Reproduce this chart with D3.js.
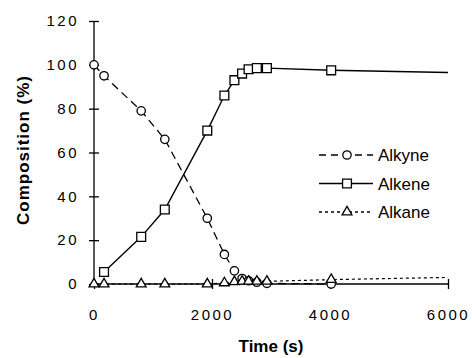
<!DOCTYPE html>
<html>
<head>
<meta charset="utf-8">
<script src="https://cdn.jsdelivr.net/npm/d3@7"></script>
<style>
  body { margin: 0; background: #fff; }
  text { font-family: "Liberation Sans", Arial, sans-serif; }
</style>
</head>
<body>
<div id="chart"></div>
<script>
// sampled times (s)
const times   = [0, 170, 800, 1200, 1920, 2210, 2380, 2510, 2620, 2760, 2930, 4020];
const alkyne  = [100, 95, 79, 66, 30, 13.5, 6, 2.5, 1.5, 0.8, 0.3, 0];
const alkene  = [null, 5.5, 21.5, 34, 70, 86, 93, 96, 98, 98.5, 98.5, 97.5];
const alkane  = [0, 0, 0, 0, 0, 0.5, 1, 1.2, 1.2, 1.2, 1.2, 2];
// line continues to end of axis without a marker
const endTime = 6000;
const alkeneEnd = 96.5;
const alkaneEnd = 3;

const xTicks = [0, 2000, 4000, 6000];
const yTicks = [0, 20, 40, 60, 80, 100, 120];
const seriesNames = ["Alkyne", "Alkene", "Alkane"];

const width = 472, height = 358;
const margin = {top: 21, right: 24, bottom: 74, left: 94};

const x = d3.scaleLinear().domain([0, 6000]).range([margin.left, width - margin.right]);
const y = d3.scaleLinear().domain([0, 120]).range([height - margin.bottom, margin.top]);

const svg = d3.select("#chart").append("svg")
  .attr("width", width)
  .attr("height", height);

// axes (ticks cross the axis line)
const yAxisL = svg.append("g")
  .attr("transform", `translate(${x(0)},0)`)
  .call(d3.axisLeft(y).tickValues(yTicks).tickSize(5).tickPadding(10));
svg.append("g")
  .attr("transform", `translate(${x(0)},0)`)
  .call(d3.axisRight(y).tickValues(yTicks).tickSize(5).tickFormat(""))
  .select(".domain").remove();

const xAxisB = svg.append("g")
  .attr("transform", `translate(0,${y(0)})`)
  .call(d3.axisBottom(x).tickValues(xTicks).tickSize(5).tickPadding(20).tickFormat(d3.format("d")));
svg.append("g")
  .attr("transform", `translate(0,${y(0)})`)
  .call(d3.axisTop(x).tickValues(xTicks).tickSize(5).tickFormat(""))
  .select(".domain").remove();

svg.selectAll(".domain").attr("stroke", "#000").attr("stroke-width", 1.3);
svg.selectAll(".tick line").attr("stroke", "#000").attr("stroke-width", 1.3);
svg.selectAll(".tick text")
  .attr("fill", "#000")
  .style("font-size", "15px")
  .style("letter-spacing", "2.5px");
// plain axis lines without end caps
yAxisL.select(".domain").attr("d", `M0,${y(0)}V${y(120)}`);
xAxisB.select(".domain").attr("d", `M${x(0)},0H${x(6000)}`);

// axis titles
svg.append("text")
  .attr("x", (x(0) + x(6000)) / 2)
  .attr("y", 352)
  .attr("text-anchor", "middle")
  .style("font-size", "17px")
  .style("font-weight", "bold")
  .text("Time (s)");

svg.append("text")
  .attr("transform", `translate(29,150) rotate(-90)`)
  .attr("text-anchor", "middle")
  .style("font-size", "17px")
  .style("font-weight", "bold")
  .style("letter-spacing", "1px")
  .text("Composition (%)");

// series lines
const line = d3.line().defined(d => d[1] != null).x(d => x(d[0])).y(d => y(d[1]));
const alkynePts = times.map((t, i) => [t, alkyne[i]]);
const alkenePts = times.map((t, i) => [t, alkene[i]]).concat([[endTime, alkeneEnd]]);
const alkanePts = times.map((t, i) => [t, alkane[i]]).concat([[endTime, alkaneEnd]]);

svg.append("path").datum(alkynePts).attr("d", line)
  .attr("fill", "none").attr("stroke", "#000").attr("stroke-width", 1.3)
  .attr("stroke-dasharray", "8,5");
svg.append("path").datum(alkenePts.filter(d => d[1] != null)).attr("d", line)
  .attr("fill", "none").attr("stroke", "#000").attr("stroke-width", 1.4);
svg.append("path").datum(alkanePts).attr("d", line)
  .attr("fill", "none").attr("stroke", "#000").attr("stroke-width", 1.2)
  .attr("stroke-dasharray", "3,3");

// markers
const circleSym = d3.symbol().type(d3.symbolCircle).size(55);
const squareSym = d3.symbol().type(d3.symbolSquare).size(78);
const triSym = d3.symbol().type(d3.symbolTriangle).size(42);

function drawMarkers(pts, sym) {
  svg.append("g").selectAll("path")
    .data(pts.filter(d => d[1] != null))
    .join("path")
    .attr("transform", d => `translate(${x(d[0])},${y(d[1])})`)
    .attr("d", sym)
    .attr("fill", "#fff")
    .attr("stroke", "#000")
    .attr("stroke-width", 1.3);
}
drawMarkers(alkynePts, circleSym);
drawMarkers(times.map((t, i) => [t, alkene[i]]), squareSym);
drawMarkers(times.map((t, i) => [t, alkane[i]]), triSym);

// legend
const legend = svg.append("g").attr("transform", "translate(319,155)");
const legendDash = ["7,5", null, "3,3"];
const legendSym = [circleSym, squareSym, triSym];
seriesNames.forEach((name, i) => {
  const g = legend.append("g").attr("transform", `translate(0,${i * 28.5})`);
  g.append("line")
    .attr("x1", 0).attr("x2", 54).attr("y1", 0).attr("y2", 0)
    .attr("stroke", "#000").attr("stroke-width", 1.3)
    .attr("stroke-dasharray", legendDash[i]);
  g.append("path")
    .attr("transform", "translate(28,0)")
    .attr("d", legendSym[i])
    .attr("fill", "#fff").attr("stroke", "#000").attr("stroke-width", 1.3);
  g.append("text")
    .attr("x", 59).attr("y", 6)
    .style("font-size", "17px")
    .text(name);
});
</script>
</body>
</html>
